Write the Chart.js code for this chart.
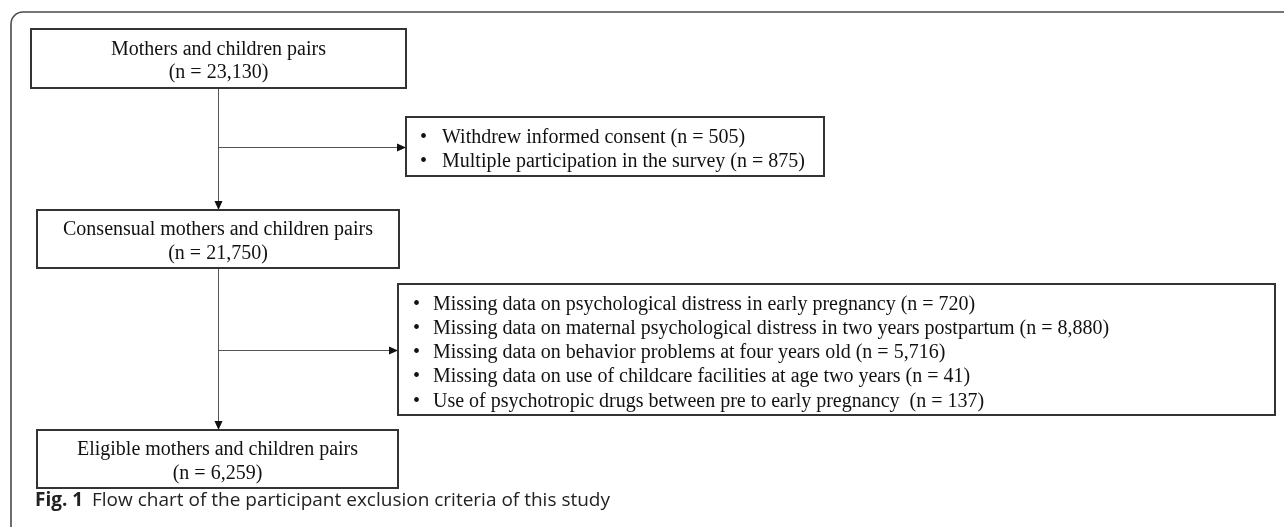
<!DOCTYPE html>
<html>
<head>
<meta charset="utf-8">
<script src="https://cdn.jsdelivr.net/npm/chart.js@4.4.1/dist/chart.umd.min.js"></script>
<style>
  html, body { margin: 0; padding: 0; background: #ffffff; }
  #wrap { width: 1284px; height: 527px; position: relative; }
</style>
</head>
<body>
<div id="wrap"><canvas id="c" width="1284" height="527"></canvas></div>
<script>
// ---- Data (flow stages and exclusions) ----
const stageLabels = [
  "Mothers and children pairs",
  "Consensual mothers and children pairs",
  "Eligible mothers and children pairs"
];
const stageCounts = [23130, 21750, 6259];

const exclusionReasons1 = [
  "Withdrew informed consent",
  "Multiple participation in the survey"
];
const exclusionCounts1 = [505, 875];

const exclusionReasons2 = [
  "Missing data on psychological distress in early pregnancy",
  "Missing data on maternal psychological distress in two years postpartum",
  "Missing data on behavior problems at four years old",
  "Missing data on use of childcare facilities at age two years",
  "Use of psychotropic drugs between pre to early pregnancy "
];
const exclusionCounts2 = [720, 8880, 5716, 41, 137];

const captionLabel = "Fig. 1";
const captionText = "Flow chart of the participant exclusion criteria of this study";

// ---- Layout (positions in the hidden 0..1284 x 0..527 coordinate space) ----
const layout = {
  stageBoxes: [
    { x0: 31, x1: 406, y0: 29, y1: 88 },
    { x0: 37, x1: 399, y0: 210, y1: 268 },
    { x0: 37, x1: 398, y0: 430, y1: 488 }
  ],
  exclBoxes: [
    { x0: 406, x1: 824, y0: 117, y1: 176, bulletX: 420, textX: 442, firstLine: 137.5, lineGap: 24 },
    { x0: 398, x1: 1275, y0: 284, y1: 415, bulletX: 413, textX: 433, firstLine: 304.5, lineGap: 24.2 }
  ],
  spineX: 218,
  branchY: [147, 350]
};

const fmt = n => "(n = " + n.toLocaleString("en-US") + ")";

const flowPlugin = {
  id: "flow",
  afterDraw(chart) {
    const ctx = chart.ctx;
    const sx = chart.scales.x, sy = chart.scales.y;
    const X = v => sx.getPixelForValue(v);
    const Y = v => sy.getPixelForValue(v);
    ctx.save();

    // outer rounded frame
    ctx.strokeStyle = "#4a4a4a";
    ctx.lineWidth = 1.6;
    const fx = X(11), fy = Y(12), r = 12;
    ctx.beginPath();
    ctx.moveTo(fx, Y(540));
    ctx.lineTo(fx, fy + r);
    ctx.arcTo(fx, fy, fx + r, fy, r);
    ctx.lineTo(X(1300), fy);
    ctx.stroke();

    // connectors
    ctx.strokeStyle = "#555555";
    ctx.lineWidth = 1;
    function arrowHead(tx, ty, dir) {
      ctx.fillStyle = "#111111";
      ctx.beginPath();
      if (dir === "down") {
        ctx.moveTo(tx, ty);
        ctx.lineTo(tx - 4, ty - 9);
        ctx.lineTo(tx + 4, ty - 9);
      } else {
        ctx.moveTo(tx, ty);
        ctx.lineTo(tx - 9, ty - 4);
        ctx.lineTo(tx - 9, ty + 4);
      }
      ctx.closePath();
      ctx.fill();
    }
    const sb = layout.stageBoxes;
    for (let i = 0; i < sb.length - 1; i++) {
      const x = Math.round(X(layout.spineX)) + 0.5;
      ctx.beginPath();
      ctx.moveTo(x, Y(sb[i].y1));
      ctx.lineTo(x, Y(sb[i + 1].y0) - 8);
      ctx.stroke();
      arrowHead(x, Y(sb[i + 1].y0), "down");
      const by = Math.round(Y(layout.branchY[i])) + 0.5;
      const eb = layout.exclBoxes[i];
      ctx.beginPath();
      ctx.moveTo(x, by);
      ctx.lineTo(X(eb.x0) - 8, by);
      ctx.stroke();
      arrowHead(X(eb.x0), by, "right");
    }

    // boxes
    ctx.strokeStyle = "#333333";
    ctx.lineWidth = 2;
    function box(b) {
      ctx.strokeRect(X(b.x0), Y(b.y0), X(b.x1) - X(b.x0), Y(b.y1) - Y(b.y0));
    }
    ctx.fillStyle = "#111111";
    ctx.font = "20px 'Liberation Serif', 'Times New Roman', serif";
    ctx.textBaseline = "middle";
    sb.forEach((b, i) => {
      box(b);
      const cx = (X(b.x0) + X(b.x1)) / 2;
      const cy = (Y(b.y0) + Y(b.y1)) / 2;
      ctx.textAlign = "center";
      ctx.fillText(stageLabels[i], cx, cy - 9);
      ctx.fillText(fmt(stageCounts[i]), cx, cy + 14.5);
    });

    const groups = [[exclusionReasons1, exclusionCounts1], [exclusionReasons2, exclusionCounts2]];
    layout.exclBoxes.forEach((b, gi) => {
      box(b);
      const [reasons, counts] = groups[gi];
      ctx.textAlign = "left";
      reasons.forEach((t, k) => {
        const y = Y(b.firstLine + k * b.lineGap);
        ctx.fillText("\u2022", X(b.bulletX), y);
        ctx.fillText(t + " " + fmt(counts[k]), X(b.textX), y);
      });
    });

    // caption
    ctx.textAlign = "left";
    ctx.fillStyle = "#222222";
    ctx.font = "bold 19px 'Open Sans', sans-serif";
    ctx.fillText(captionLabel, X(35), Y(501));
    ctx.font = "19px 'Open Sans', sans-serif";
    ctx.fillText(captionText, X(92), Y(501));

    ctx.restore();
  }
};

new Chart(document.getElementById("c"), {
  type: "scatter",
  data: { datasets: [{ data: [], pointRadius: 0 }] },
  options: {
    responsive: false,
    animation: false,
    devicePixelRatio: 1,
    layout: { padding: 0 },
    plugins: { legend: { display: false }, tooltip: { enabled: false } },
    scales: {
      x: { type: "linear", min: 0, max: 1284, display: false },
      y: { type: "linear", min: 0, max: 527, reverse: true, display: false }
    }
  },
  plugins: [flowPlugin]
});
</script>
</body>
</html>
